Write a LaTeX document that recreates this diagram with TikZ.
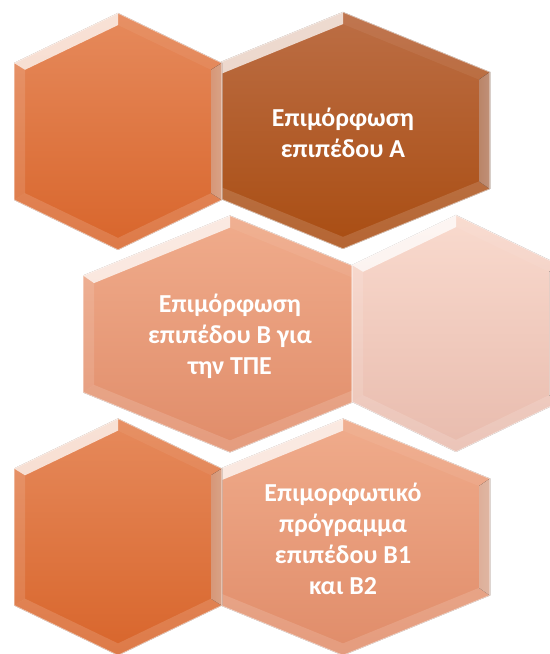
\documentclass[tikz,border=0pt]{standalone}
\usepackage{fontspec}
\setmainfont{Carlito}
\definecolor{oA}{HTML}{E68A5C}
\definecolor{oB}{HTML}{D8652B}
\definecolor{dA}{HTML}{BC6E45}
\definecolor{dB}{HTML}{A94D12}
\definecolor{sA}{HTML}{F0AC8C}
\definecolor{sB}{HTML}{E08C69}
\definecolor{pA}{HTML}{F9DACE}
\definecolor{pB}{HTML}{E8BBAD}
\def\H{118.5}
\def\bev{11}
\newcommand\hexcell[6]{%
 \begin{scope}[shift={(#1,#2)}]
  \def\W{#3}\def\R{#4}%
  \pgfmathsetmacro\Wi{\W-\bev}%
  \pgfmathsetmacro\Hi{\H-1.1*\bev}%
  \pgfmathsetmacro\Ri{\R*\Wi/\W}%
  \fill[top color=#5,bottom color=#6] (0,\H) -- (\W,\H-\R) -- (\W,-\H+\R) -- (0,-\H) -- (-\W,-\H+\R) -- (-\W,\H-\R) -- cycle;
  % upper-left highlight
  \fill[white,fill opacity=0.75] (-\W,\H-\R) -- (0,\H) -- (0,\Hi) -- (-\Wi,\Hi-\Ri) -- cycle;
  % upper-right
  \fill[white,fill opacity=0.06] (0,\H) -- (\W,\H-\R) -- (\Wi,\Hi-\Ri) -- (0,\Hi) -- cycle;
  % right side
  \fill[left color=#5!75!white,middle color=#5!25!white,right color=#5!65!white,fill opacity=0.9] (\W,\H-\R) -- (\W,-\H+\R) -- (\Wi,-\Hi+\Ri) -- (\Wi,\Hi-\Ri) -- cycle;
  % left side
  \fill[white,fill opacity=0.12] (-\W,\H-\R) -- (-\W,-\H+\R) -- (-\Wi,-\Hi+\Ri) -- (-\Wi,\Hi-\Ri) -- cycle;
  % lower edges
  \fill[white,fill opacity=0.14] (-\W,-\H+\R) -- (0,-\H) -- (\W,-\H+\R) -- (\Wi,-\Hi+\Ri) -- (0,-\Hi) -- (-\Wi,-\Hi+\Ri) -- cycle;
  \draw[white,opacity=0.55,line width=1.2] (0,\H) -- (\W,\H-\R) -- (\W,-\H+\R) -- (0,-\H) -- (-\W,-\H+\R) -- (-\W,\H-\R) -- cycle;
 \end{scope}}
\tikzset{lbl/.style={text=white,align=center,font=\fontsize{26}{31}\selectfont\bfseries}}
\begin{document}
\begin{tikzpicture}[x=1bp,y=1bp]
\useasboundingbox (0,0) rectangle (550,654);
\hexcell{343}{523.5}{147}{60}{dA}{dB}
\hexcell{118}{522.5}{104}{50}{oA}{oB}
\hexcell{230}{320}{147}{60}{sA}{sB}
\hexcell{456}{320.5}{104}{50}{pA}{pB}
\hexcell{343}{117}{147}{60}{sA}{sB}
\hexcell{118}{117}{104}{50}{oA}{oB}
\node[lbl] (tA) at (343,521) {Επιμόρφωση\\επιπέδου Α};
\node[lbl] (tB) at (230,318) {Επιμόρφωση\\επιπέδου Β για\\την ΤΠΕ};
\node[lbl] (tC) at (343,115) {Επιμορφωτικό\\πρόγραμμα\\επιπέδου Β1\\και Β2};
\end{tikzpicture}
\end{document}
